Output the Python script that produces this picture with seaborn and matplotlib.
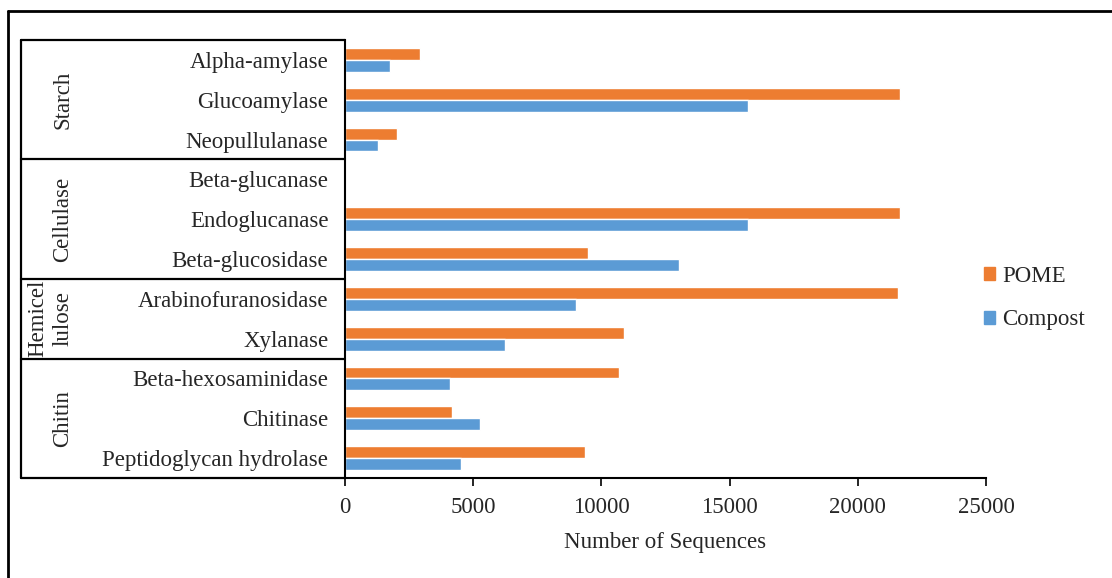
import numpy as np
import pandas as pd
import seaborn as sns
import matplotlib.pyplot as plt
from matplotlib.lines import Line2D
import matplotlib.transforms as mtransforms

sns.set_style("white")
plt.rcParams['font.family'] = ['Liberation Serif', 'DejaVu Serif']

# data
enzymes = ["Alpha-amylase", "Glucoamylase", "Neopullulanase",
           "Beta-glucanase", "Endoglucanase", "Beta-glucosidase",
           "Arabinofuranosidase", "Xylanase",
           "Beta-hexosaminidase", "Chitinase", "Peptidoglycan hydrolase"]
pome = [2930, 21650, 2020, 0, 21650, 9490, 21580, 10890, 10700, 4190, 9350]
compost = [1770, 15730, 1300, 0, 15730, 13010, 9010, 6250, 4080, 5250, 4520]
groups = ["Starch", "Cellulase", "Hemicel\nlulose", "Chitin"]
group_sizes = [3, 3, 2, 3]
series = ["POME", "Compost"]
colors = ["#ED7D31", "#5B9BD5"]

df = pd.DataFrame({
    "enzyme": enzymes * 2,
    "value": pome + compost,
    "series": ["POME"] * len(enzymes) + ["Compost"] * len(enzymes),
})

W, H = 1112, 578
fig = plt.figure(figsize=(W / 100, H / 100), dpi=100)
x0, x1, y0, y1 = 345, 986, 40, 478
ax = fig.add_axes([x0 / W, 1 - y1 / H, (x1 - x0) / W, (y1 - y0) / H])

sns.barplot(data=df, y="enzyme", x="value", hue="series", hue_order=series,
            order=enzymes, palette=colors, orient="h", width=0.6,
            saturation=1, ax=ax, legend=False)

fs = 16.5
ax.set_xlim(0, 25000)
ax.set_ylim(len(enzymes) - 0.5, -0.5)
ax.set_xticks(np.arange(0, 25001, 5000))
ax.tick_params(axis="x", direction="out", length=6, width=1.2, color="black",
               labelsize=fs, pad=8, bottom=True)
ax.tick_params(axis="y", length=0, labelsize=fs, pad=12)
ax.set_xlabel("Number of Sequences", fontsize=fs, labelpad=10)
ax.set_ylabel("")
for s in ["top", "right"]:
    ax.spines[s].set_visible(False)
for s in ["left", "bottom"]:
    ax.spines[s].set_color("black")
    ax.spines[s].set_linewidth(1.5)

# category table to the left of the axis
tr = mtransforms.blended_transform_factory(ax.transAxes, ax.transData)
xl = (21 - x0) / (x1 - x0)
bounds = [-0.5]
for n in group_sizes:
    bounds.append(bounds[-1] + n)
for b in bounds:
    ax.add_line(Line2D([xl, 0], [b, b], transform=tr, color="black",
                       lw=1.6, clip_on=False))
ax.add_line(Line2D([xl, xl], [bounds[0], bounds[-1]], transform=tr,
                   color="black", lw=1.6, clip_on=False))

xg = (63 - x0) / (x1 - x0)
for g, a, b in zip(groups, bounds[:-1], bounds[1:]):
    if "\n" in g:
        first, second = g.split("\n")
        ax.text((38 - x0) / (x1 - x0), (a + b) / 2, first, transform=tr,
                rotation=90, ha="center", va="center", fontsize=fs)
        ax.text(xg, (a + b) / 2, second, transform=tr,
                rotation=90, ha="center", va="center", fontsize=fs)
    else:
        ax.text(xg, (a + b) / 2, g, transform=tr, rotation=90,
                ha="center", va="center", fontsize=fs)

# legend
handles = [plt.Rectangle((0, 0), 1, 1, color=c) for c in colors]
fig.legend(handles, series, loc="center left", bbox_to_anchor=(963 / W, 1 - 298 / H),
           frameon=False, fontsize=fs, handlelength=0.5, handleheight=0.5,
           handletextpad=0.3, labelspacing=1.0)

# outer frame (left and top edges visible)
fig.add_artist(Line2D([8 / W, 8 / W], [0, 1 - 11 / H], color="black", lw=2))
fig.add_artist(Line2D([8 / W, 1], [1 - 11 / H, 1 - 11 / H], color="black", lw=2))

fig.savefig("out.png", dpi=100, facecolor="white")
